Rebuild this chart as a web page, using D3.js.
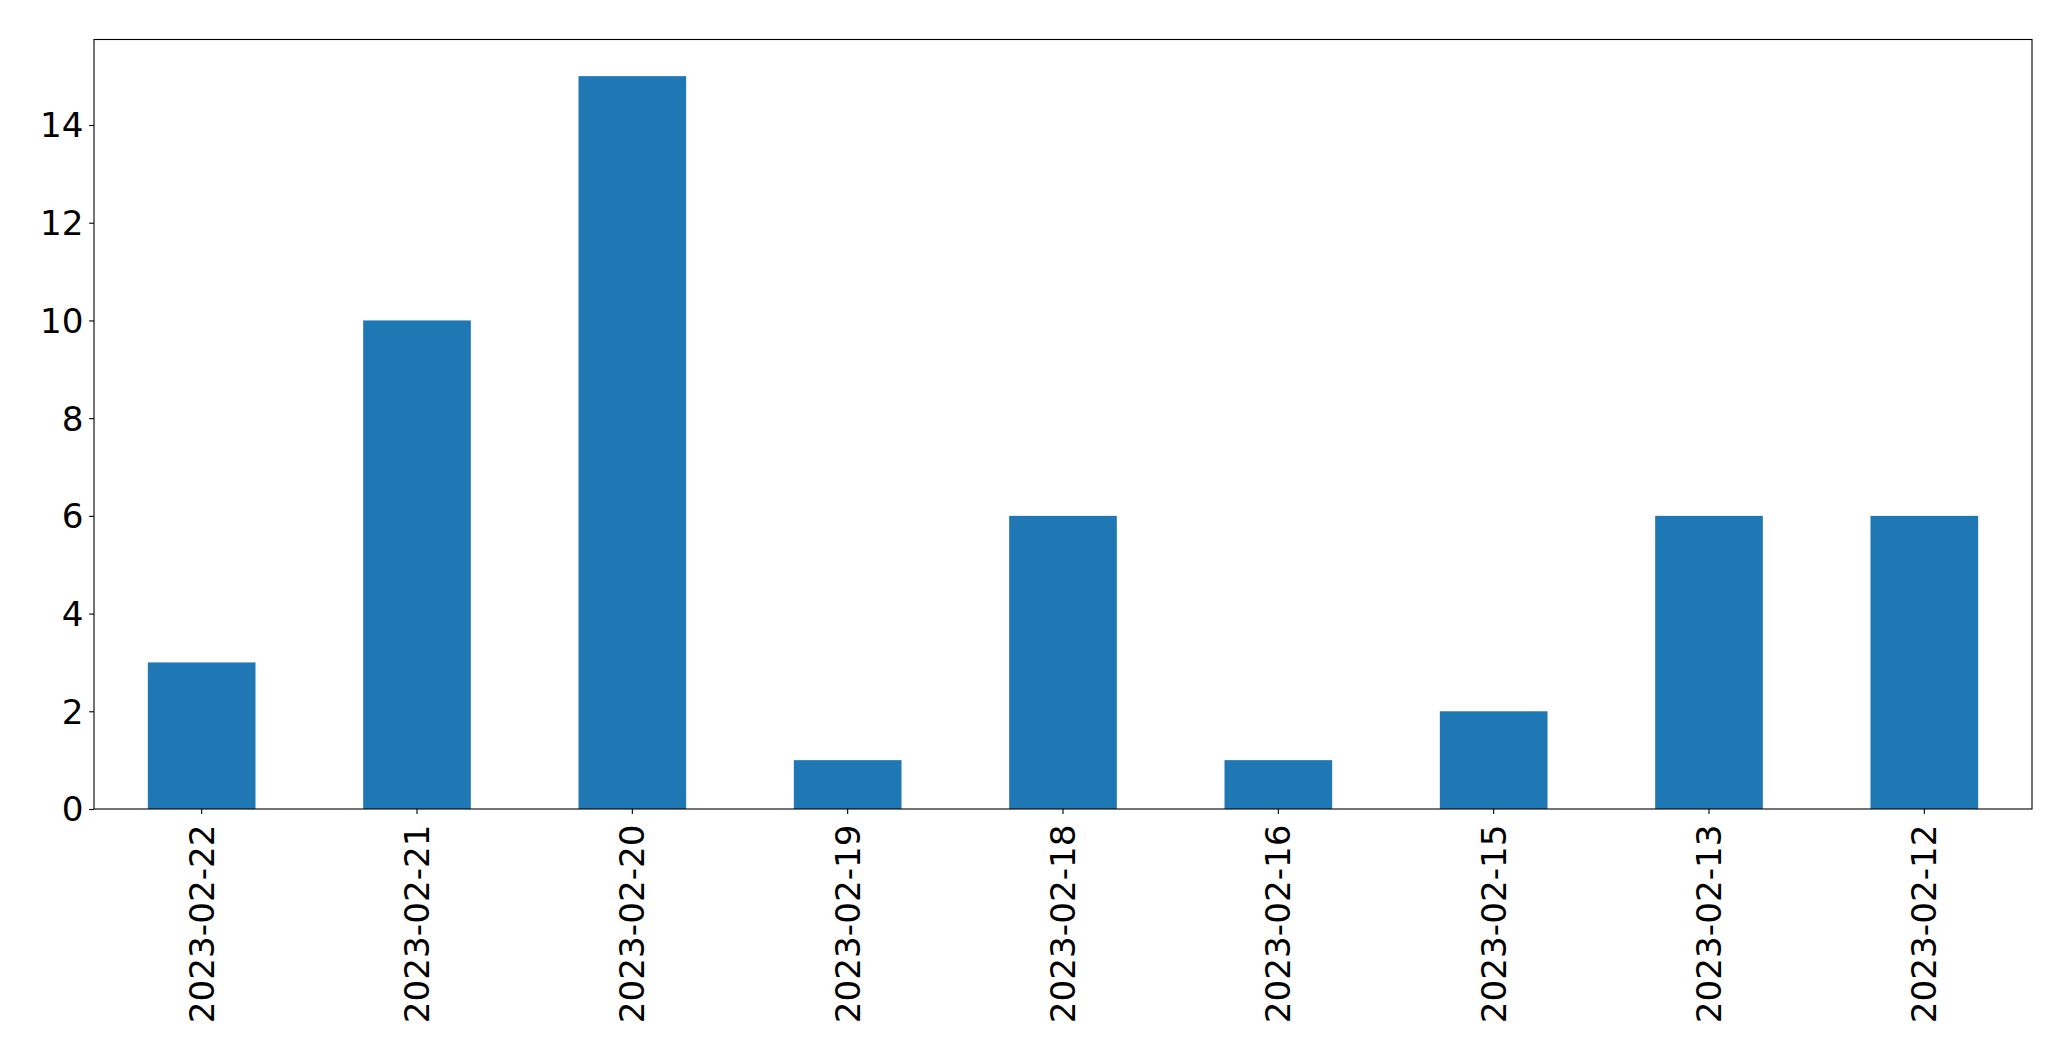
<!DOCTYPE html>
<html>
<head>
<meta charset="utf-8">
<script src="https://cdn.jsdelivr.net/npm/d3@7"></script>
<style>
  html, body { margin: 0; padding: 0; background: #fff; }
  svg { display: block; }
  text { font-family: "DejaVu Sans", sans-serif; fill: #000; }
</style>
</head>
<body>
<svg id="chart" width="2071" height="1061"></svg>
<script>
const categories = ["2023-02-22","2023-02-21","2023-02-20","2023-02-19","2023-02-18","2023-02-16","2023-02-15","2023-02-13","2023-02-12"];
const values = [3, 10, 15, 1, 6, 1, 2, 6, 6];
const yTicks = [0, 2, 4, 6, 8, 10, 12, 14];

(function () {
const svg = d3.select("#chart");
const mLeft = 94, mRight = 2032, mTop = 39.5, mBottom = 809;
const fontSize = 34.2;

const x = d3.scaleBand().domain(categories).range([mLeft, mRight]).paddingInner(0.5).paddingOuter(0.25);
const y = d3.scaleLinear().domain([0, 15.75]).range([mBottom, mTop]);

svg.append("g").selectAll("rect").data(values).join("rect")
  .attr("x", (d, i) => x(categories[i]))
  .attr("width", x.bandwidth())
  .attr("y", d => y(d))
  .attr("height", d => y(0) - y(d))
  .attr("fill", "#1f77b4");

// frame
svg.append("rect")
  .attr("x", mLeft).attr("y", mTop)
  .attr("width", mRight - mLeft).attr("height", mBottom - mTop)
  .attr("fill", "none").attr("stroke", "#000").attr("stroke-width", 1.1);

// y axis
const yAxis = svg.append("g").attr("transform", `translate(${mLeft},0)`)
  .call(d3.axisLeft(y).tickValues(yTicks).tickSize(4.9).tickPadding(5.5).tickFormat(d3.format("d")));
yAxis.select(".domain").remove();
yAxis.selectAll(".tick line").attr("stroke", "#000").attr("stroke-width", 1.1);
yAxis.selectAll(".tick text").attr("font-size", fontSize).attr("font-family", "DejaVu Sans").attr("fill", "#000").attr("dy", "0.35em");

// x axis
const xAxis = svg.append("g").attr("transform", `translate(0,${mBottom})`)
  .call(d3.axisBottom(x).tickSize(4.9).tickPadding(4.9));
xAxis.select(".domain").remove();
xAxis.selectAll(".tick line").attr("stroke", "#000").attr("stroke-width", 1.1);
xAxis.selectAll(".tick text")
  .attr("font-size", fontSize).attr("font-family", "DejaVu Sans").attr("fill", "#000")
  .attr("transform", "rotate(-90)")
  .attr("text-anchor", "end")
  .attr("x", -15.5).attr("y", 0).attr("dy", "0.35em");
})();
</script>
</body>
</html>
